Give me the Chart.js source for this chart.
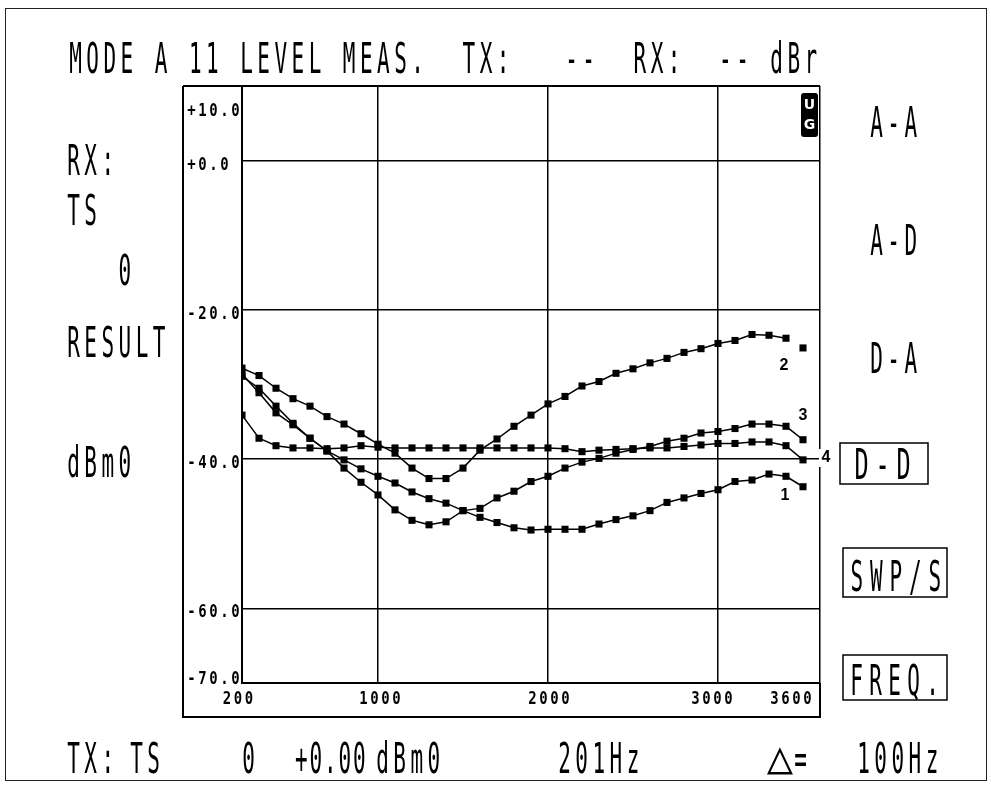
<!DOCTYPE html>
<html>
<head>
<meta charset="utf-8">
<script src="https://cdn.jsdelivr.net/npm/chart.js@4.4.0/dist/chart.umd.min.js"></script>
<style>
  html, body { margin: 0; padding: 0; background: #fff; }
  canvas { display: block; }
</style>
</head>
<body>
<canvas id="chart" width="991" height="791"></canvas>
<script>
// sweep frequencies (Hz), step 100 Hz
const freqs = [200, 300, 400, 500, 600, 700, 800, 900, 1000, 1100, 1200, 1300, 1400, 1500, 1600, 1700,
    1800, 1900, 2000, 2100, 2200, 2300, 2400, 2500, 2600, 2700, 2800, 2900, 3000, 3100, 3200, 3300, 3400, 3500];

// measured levels in dBm0, one list per trace (labelled 1..4 on the plot)
const level1 = [-28.9, -30.5, -32.9, -35.2, -37.2, -38.9, -40.1, -41.3, -42.3, -43.2, -44.4, -45.3, -45.9, -46.9, -47.8, -48.5,
    -49.2, -49.5, -49.4, -49.4, -49.4, -48.7, -48.1, -47.6, -46.9, -45.8, -45.2, -44.6, -44.1, -43.0, -42.8, -42.0, -42.3, -43.7];
const level2 = [-27.8, -28.8, -30.5, -31.9, -32.9, -34.3, -35.3, -36.6, -38.0, -39.2, -41.2, -42.6, -42.6, -41.2, -38.8, -37.3,
    -35.6, -34.1, -32.6, -31.6, -30.2, -29.6, -28.5, -27.9, -27.1, -26.5, -25.7, -25.2, -24.5, -24.1, -23.3, -23.4, -23.8, -25.1];
const level3 = [-28.6, -31.1, -33.8, -35.4, -37.2, -38.9, -41.2, -43.1, -44.8, -46.8, -48.2, -48.8, -48.4, -46.9, -46.6, -45.2,
    -44.3, -43.0, -42.3, -41.2, -40.4, -39.9, -39.2, -38.7, -38.3, -37.6, -37.2, -36.5, -36.3, -35.9, -35.3, -35.3, -35.6, -37.4];
const level4 = [-34.1, -37.2, -38.2, -38.5, -38.5, -38.6, -38.5, -38.2, -38.4, -38.5, -38.5, -38.5, -38.5, -38.5, -38.5, -38.5,
    -38.5, -38.5, -38.5, -38.6, -39.0, -38.8, -38.7, -38.6, -38.5, -38.5, -38.3, -38.1, -37.9, -37.9, -37.7, -37.7, -38.2, -40.1];

const xTicks = [200, 1000, 2000, 3000, 3600];
const yTicks = [10, 0, -20, -40, -60, -70];
const yTickLabels = ['+10.0', '+0.0', '-20.0', '-40.0', '-60.0', '-70.0'];

const INK = '#000';
const PLOT_FONT = '"DejaVu Sans Mono", "Liberation Mono", monospace';

// plotter-style text: fixed pitch, horizontally squeezed glyphs
function plotText(ctx, str, x, baseline, opts = {}) {
    const pitch = opts.pitch || 17.1;
    const size = opts.size || 42;
    const sx = opts.sx || 0.5;
    ctx.save();
    ctx.fillStyle = INK;
    ctx.font = `${opts.weight || 'normal'} ${size}px ${PLOT_FONT}`;
    ctx.textAlign = 'center';
    ctx.textBaseline = 'alphabetic';
    for (let i = 0; i < str.length; i++) {
        const ch = str[i];
        if (ch === ' ') continue;
        ctx.save();
        ctx.translate(x + pitch * i + pitch / 2, baseline);
        ctx.scale(sx, 1);
        ctx.fillText(ch, 0, 0);
        ctx.restore();
    }
    ctx.restore();
}

// bold tick numbers of the plot frame
function tickText(ctx, str, cx, cy, align) {
    const pitch = 11;
    const w = pitch * str.length;
    let x0 = cx - w / 2;
    if (align === 'left') x0 = cx;
    plotText(ctx, str, x0, cy + 6, { pitch: pitch, size: 17, sx: 0.82, weight: 'bold' });
}

function boxed(ctx, x, y, w, h) {
    ctx.save();
    ctx.strokeStyle = INK;
    ctx.lineWidth = 1.5;
    ctx.strokeRect(x, y, w, h);
    ctx.restore();
}

const backdrop = {
    id: 'backdrop',
    beforeDraw(chart) {
        const ctx = chart.ctx;
        ctx.save();
        ctx.fillStyle = '#fff';
        ctx.fillRect(0, 0, chart.width, chart.height);
        ctx.restore();
    }
};

const screen = {
    id: 'screen',
    afterDraw(chart) {
        const ctx = chart.ctx;
        const xs = chart.scales.x;
        const ys = chart.scales.y;
        const area = chart.chartArea;

        ctx.save();
        // page frame
        ctx.strokeStyle = '#222';
        ctx.lineWidth = 1;
        ctx.strokeRect(5.5, 8.5, 981, 772);

        // frame around plot, tick label column and tick label band
        ctx.strokeStyle = INK;
        ctx.lineWidth = 2;
        ctx.beginPath();
        ctx.moveTo(183, area.top);
        ctx.lineTo(area.right, area.top);
        ctx.moveTo(183, area.top);
        ctx.lineTo(183, 717);
        ctx.lineTo(area.right, 717);
        ctx.lineTo(area.right, area.bottom);
        ctx.stroke();
        ctx.restore();

        // y tick labels
        yTicks.forEach((v, i) => {
            let y = ys.getPixelForValue(v) + 3;
            if (i === 0) y = ys.getPixelForValue(v) + 24;
            if (i === yTicks.length - 1) y = ys.getPixelForValue(v) - 5;
            tickText(ctx, yTickLabels[i], 186, y, 'left');
        });

        // x tick labels
        const xShift = [-4, 2, 1, -6, -29];
        xTicks.forEach((v, i) => {
            tickText(ctx, String(v), xs.getPixelForValue(v) + xShift[i], 698, 'center');
        });

        // trace numbers
        ctx.save();
        ctx.fillStyle = '#fff';
        ctx.fillRect(819, 449, 12, 18);
        ctx.fillStyle = INK;
        ctx.font = 'bold 16px "Liberation Sans", Arial, sans-serif';
        ctx.textAlign = 'center';
        ctx.textBaseline = 'middle';
        ctx.fillText('2', 784, 366);
        ctx.fillText('3', 803, 416);
        ctx.fillText('4', 826, 458);
        ctx.fillText('1', 785, 496);
        ctx.restore();

        // UG badge
        ctx.save();
        ctx.fillStyle = INK;
        ctx.beginPath();
        ctx.roundRect(801, 93, 17, 44, 3);
        ctx.fill();
        ctx.fillStyle = '#fff';
        ctx.font = 'bold 14px "DejaVu Sans", sans-serif';
        ctx.textAlign = 'center';
        ctx.textBaseline = 'middle';
        ctx.fillText('U', 809.5, 105);
        ctx.fillText('G', 809.5, 125);
        ctx.restore();

        // header line
        plotText(ctx, 'MODE A 11 LEVEL MEAS.  TX:   --  RX:  -- dBr', 67, 73);

        // left panel
        plotText(ctx, 'RX:', 65, 175);
        plotText(ctx, 'TS', 65, 225);
        plotText(ctx, '   0', 65, 285);
        plotText(ctx, 'RESULT', 65, 357);
        plotText(ctx, 'dBm0', 65, 477);

        // right soft keys
        plotText(ctx, 'A-A', 868, 137);
        plotText(ctx, 'A-D', 868, 255);
        plotText(ctx, 'D-A', 868, 373);
        plotText(ctx, 'D-D', 851, 479, { pitch: 21, sx: 0.56 });
        boxed(ctx, 840, 443, 88, 41);
        plotText(ctx, 'SWP/S', 847, 591, { pitch: 19.5 });
        boxed(ctx, 843, 548, 104, 49);
        plotText(ctx, 'FREQ.', 847, 695, { pitch: 19 });
        boxed(ctx, 843, 655, 104, 45);

        // status line
        plotText(ctx, 'TX:', 65, 773);
        plotText(ctx, 'TS', 128, 773);
        plotText(ctx, '0', 240, 773);
        plotText(ctx, '+0.00', 294, 773, { pitch: 14.5 });
        plotText(ctx, 'dBm0', 374, 773);
        plotText(ctx, '201Hz', 556, 773);
        plotText(ctx, '\u25B3', 768, 773, { pitch: 24, size: 46, sx: 0.95 });
        plotText(ctx, '=', 792, 773);
        plotText(ctx, '100Hz', 855, 773);
    }
};

function trace(values, hideLast) {
    return {
        data: freqs.map((f, i) => ({ x: f, y: values[i] })),
        borderColor: INK,
        backgroundColor: INK,
        borderWidth: 1.5,
        pointStyle: 'rect',
        pointRadius: 5,
        pointBorderWidth: 0,
        tension: 0,
        segment: hideLast ? {
            borderColor: ctx => ctx.p1DataIndex === freqs.length - 1 ? 'rgba(0,0,0,0)' : INK
        } : undefined
    };
}

new Chart(document.getElementById('chart'), {
    type: 'line',
    data: {
        datasets: [trace(level1), trace(level2, true), trace(level3), trace(level4)]
    },
    options: {
        responsive: false,
        devicePixelRatio: 1,
        animation: false,
        events: [],
        layout: { padding: { left: 242, right: 171, top: 86, bottom: 108 } },
        plugins: {
            legend: { display: false },
            title: { display: false },
            tooltip: { enabled: false }
        },
        scales: {
            x: {
                type: 'linear',
                min: 200,
                max: 3600,
                afterBuildTicks: axis => { axis.ticks = xTicks.map(v => ({ value: v })); },
                ticks: { display: false },
                grid: { color: INK, lineWidth: 1.5, drawTicks: false },
                border: { display: true, color: INK, width: 2 }
            },
            y: {
                type: 'linear',
                min: -70,
                max: 10,
                afterBuildTicks: axis => { axis.ticks = yTicks.map(v => ({ value: v })); },
                ticks: { display: false },
                grid: { color: INK, lineWidth: 1.5, drawTicks: false },
                border: { display: true, color: INK, width: 2 }
            }
        }
    },
    plugins: [backdrop, screen]
});
</script>
</body>
</html>
